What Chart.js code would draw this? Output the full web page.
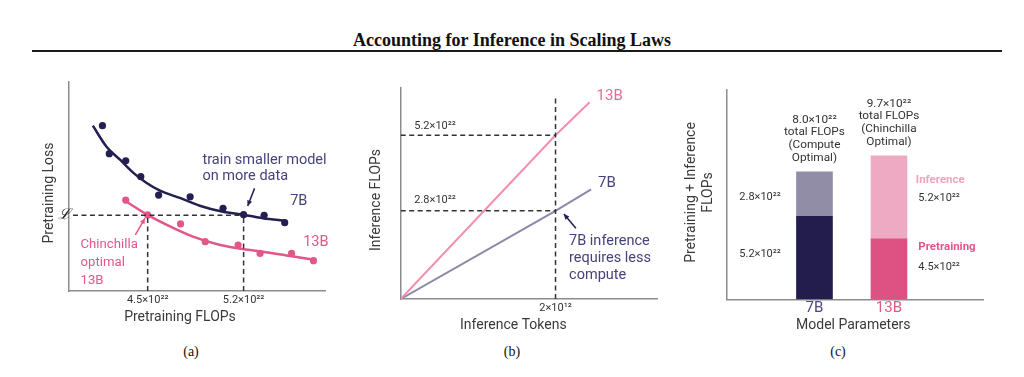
<!DOCTYPE html>
<html>
<head>
<meta charset="utf-8">
<script src="https://cdn.jsdelivr.net/npm/chart.js@4.4.0/dist/chart.umd.min.js"></script>
<style>
  body { margin: 0; background: #fff; width: 1024px; height: 377px; position: relative; overflow: hidden; font-family: "Liberation Serif", serif; }
  #title { position: absolute; left: 0; width: 1024px; top: 30px; text-align: center; font-weight: bold; font-size: 18px; color: #111; }
  #rule { position: absolute; left: 32px; width: 970px; top: 50px; height: 2px; background: #1a1a1a; }
  .panel { position: absolute; top: 70px; height: 265px; }
  .cap { position: absolute; top: 344px; font-size: 14px; color: #111; transform: translateX(-50%); }
</style>
</head>
<body>
<div id="title">Accounting for Inference in Scaling Laws</div>
<div id="rule"></div>
<div class="panel" style="left:20px;width:320px"><canvas id="chart-a" width="320" height="265"></canvas></div>
<div class="panel" style="left:350px;width:320px"><canvas id="chart-b" width="320" height="265"></canvas></div>
<div class="panel" style="left:675px;width:330px"><canvas id="chart-c" width="330" height="265"></canvas></div>
<div class="cap" style="left:191px">(a)</div>
<div class="cap" style="left:512px">(b)</div>
<div class="cap" style="left:838px">(c)</div>
<script>
// (a) pretraining loss vs pretraining FLOPs (x in 1e22 FLOPs, loss in arbitrary units)
var pts7bX = [4.17, 4.22, 4.34, 4.45, 4.58, 4.81, 5.05, 5.20, 5.35, 5.50];
var pts7bY = [7.91, 6.57, 6.23, 5.47, 4.59, 4.51, 3.96, 3.65, 3.62, 3.27];
var fit7bX = [4.10, 4.20, 4.30, 4.40, 4.49, 4.59, 4.74, 4.88, 5.05, 5.20, 5.34, 5.51];
var fit7bY = [7.91, 6.90, 6.27, 5.63, 5.18, 4.80, 4.44, 4.08, 3.79, 3.65, 3.48, 3.36];
var pts13bX = [4.34, 4.50, 4.74, 4.92, 5.16, 5.32, 5.55, 5.71];
var pts13bY = [4.35, 3.64, 3.21, 2.36, 2.20, 1.80, 1.80, 1.45];
var fit13bX = [4.32, 4.50, 4.64, 4.83, 5.03, 5.20, 5.34, 5.54, 5.73];
var fit13bY = [4.38, 3.64, 3.16, 2.60, 2.20, 2.00, 1.88, 1.67, 1.48];
var lossLevel = 3.62;
var flopsTicksA = [4.5, 5.2];
var flopsTickLabelsA = ['4.5×10²²', '5.2×10²²'];

// (b) inference FLOPs (1e22) vs inference tokens (1e12)
var tokens13b = [0, 2, 2.44];
var flops13b = [0, 5.2, 6.25];
var tokens7b = [0, 2, 2.46];
var flops7b = [0, 2.8, 3.48];
var tokenTicksB = [2];
var tokenTickLabelsB = ['2×10¹²'];
var flopLevelsB = [5.2, 2.8];
var flopLevelLabelsB = ['5.2×10²²', '2.8×10²²'];

// (c) pretraining + inference FLOPs per model (bar heights as drawn)
var models = ['7B', '13B'];
var pretrainBar = [5.2, 3.8];
var inferenceBar = [2.8, 5.2];
var pretrainText = ['5.2×10²²', '4.5×10²²'];
var inferenceText = ['2.8×10²²', '5.2×10²²'];
var totalText = ['8.0×10²²', '9.7×10²²'];
var optimalText = [['(Compute', 'Optimal)'], ['(Chinchilla', 'Optimal)']];

var navy = '#231f50';
var navyText = '#46437c';
var pink = '#e2578a';
var axisGrey = '#8c8c8c';
var dark = '#333';
var small = '11px Roboto';
var label = '14px Roboto';

Chart.defaults.font.family = 'Roboto';
Chart.defaults.animation = false;
Chart.defaults.events = [];

function xy(xs, ys) {
    return xs.map(function (x, i) { return { x: x, y: ys[i] }; });
}

function dashed(points, color) {
    return { data: points, showLine: true, borderColor: color || dark, borderWidth: 1.5, borderDash: [5, 3.5], pointRadius: 0 };
}

// text and arrows drawn on top of the plot, placed in data units or relative to the chart area
function notes(items, arrows) {
    return {
        id: 'notes',
        afterDatasetsDraw: function (chart) {
            var ctx = chart.ctx, area = chart.chartArea;
            var sx = chart.scales.x, sy = chart.scales.y;
            function place(at, pos) {
                if (at) return [sx.getPixelForValue(at[0]), sy.getPixelForValue(at[1])];
                return [area.left + pos[0], area.top + pos[1]];
            }
            ctx.save();
            (arrows || []).forEach(function (a) {
                var p0 = place(a.from), p1 = place(a.to);
                var ang = Math.atan2(p1[1] - p0[1], p1[0] - p0[0]);
                ctx.strokeStyle = a.color;
                ctx.fillStyle = a.color;
                ctx.lineWidth = 1.5;
                ctx.beginPath();
                ctx.moveTo(p0[0], p0[1]);
                ctx.lineTo(p1[0], p1[1]);
                ctx.stroke();
                ctx.beginPath();
                ctx.moveTo(p1[0], p1[1]);
                ctx.lineTo(p1[0] - 6 * Math.cos(ang - 0.45), p1[1] - 6 * Math.sin(ang - 0.45));
                ctx.lineTo(p1[0] - 6 * Math.cos(ang + 0.45), p1[1] - 6 * Math.sin(ang + 0.45));
                ctx.closePath();
                ctx.fill();
            });
            items.forEach(function (n) {
                var p = place(n.at, n.pos);
                var lines = [].concat(n.text);
                ctx.save();
                ctx.translate(p[0], p[1] + (n.dy || 0));
                if (n.rot) ctx.rotate(n.rot);
                ctx.font = n.font || label;
                ctx.fillStyle = n.color || dark;
                ctx.textAlign = n.align || 'left';
                ctx.textBaseline = 'middle';
                lines.forEach(function (t, i) { ctx.fillText(t, 0, i * (n.lh || 17)); });
                ctx.restore();
            });
            ctx.restore();
        }
    };
}

function yAxis(min, max, extra) {
    return Object.assign({
        min: min, max: max,
        ticks: { display: false },
        grid: { display: false, drawTicks: false },
        border: { color: axisGrey, width: 1.5 },
        afterFit: function (s) { s.width = 0; }
    }, extra || {});
}

function xAxis(min, max, tickValues, tickLabels, height, opts) {
    return {
        type: 'linear', min: min, max: max, offset: false,
        grid: { display: false, drawTicks: false },
        border: { color: axisGrey, width: 1.5 },
        afterBuildTicks: function (s) { s.ticks = tickValues.map(function (v) { return { value: v }; }); },
        ticks: Object.assign({
            autoSkip: false, maxRotation: 0, padding: 3,
            font: { size: 11 }, color: dark,
            callback: function (v, i) { return tickLabels[i]; }
        }, opts || {}),
        afterFit: function (s) { s.height = height; }
    };
}

// ---- panel (a)
var xMinA = 3.926, xMaxA = 5.794;
new Chart(document.getElementById('chart-a'), {
    type: 'scatter',
    data: {
        datasets: [
            dashed([{ x: 3.955, y: lossLevel }, { x: flopsTicksA[1], y: lossLevel }]),
            dashed([{ x: flopsTicksA[0], y: 0 }, { x: flopsTicksA[0], y: lossLevel }]),
            dashed([{ x: flopsTicksA[1], y: 0 }, { x: flopsTicksA[1], y: lossLevel }]),
            { data: xy(fit7bX, fit7bY), showLine: true, borderColor: navy, borderWidth: 2.5, pointRadius: 0, cubicInterpolationMode: 'monotone' },
            { data: xy(fit13bX, fit13bY), showLine: true, borderColor: pink, borderWidth: 2.5, pointRadius: 0, cubicInterpolationMode: 'monotone' },
            { data: xy(pts7bX, pts7bY), pointRadius: 3.6, pointBackgroundColor: navy, pointBorderWidth: 0 },
            { data: xy(pts13bX, pts13bY), pointRadius: 3.6, pointBackgroundColor: pink, pointBorderWidth: 0 }
        ]
    },
    options: {
        responsive: false,
        layout: { padding: { left: 49, top: 12, right: 15, bottom: 0 } },
        plugins: { legend: { display: false }, tooltip: { enabled: false } },
        scales: {
            x: xAxis(xMinA, xMaxA, flopsTicksA, flopsTickLabelsA, 44),
            y: yAxis(0, 10)
        }
    },
    plugins: [notes([
        { text: 'ℒ', at: [3.89, lossLevel], align: 'center', font: 'italic 15px "DejaVu Serif"', color: '#222' },
        { text: ['train smaller model', 'on more data'], at: [4.90, 6.27], color: navyText, lh: 16.5, font: '14.5px Roboto' },
        { text: '7B', at: [5.54, 4.27], color: navyText, font: '14.5px Roboto' },
        { text: '13B', at: [5.635, 2.31], color: pink, font: '14.5px Roboto' },
        { text: ['Chinchilla', 'optimal', '13B'], at: [4.01, 2.23], color: pink, lh: 18.4, font: '13.2px Roboto' },
        { text: 'Pretraining FLOPs', pos: [111, 235], align: 'center', color: '#3a3a3a' },
        { text: 'Pretraining Loss', pos: [-20, 111], align: 'center', rot: -Math.PI / 2, color: '#3a3a3a' }
    ], [
        { from: [5.28, 4.91], to: [5.23, 4.07], color: navy },
        { from: [4.41, 2.68], to: [4.48, 3.48], color: pink }
    ])]
});

// ---- panel (b)
new Chart(document.getElementById('chart-b'), {
    type: 'scatter',
    data: {
        datasets: [
            dashed([{ x: tokenTicksB[0], y: 0 }, { x: tokenTicksB[0], y: 6.48 }]),
            dashed([{ x: 0, y: flopLevelsB[0] }, { x: tokenTicksB[0], y: flopLevelsB[0] }]),
            dashed([{ x: 0, y: flopLevelsB[1] }, { x: tokenTicksB[0], y: flopLevelsB[1] }]),
            { data: xy(tokens13b, flops13b), showLine: true, borderColor: '#f18fac', borderWidth: 2, pointRadius: 0 },
            { data: xy(tokens7b, flops7b), showLine: true, borderColor: '#8c88a9', borderWidth: 2, pointRadius: 0 }
        ]
    },
    options: {
        responsive: false,
        layout: { padding: { left: 50.7, top: 18, right: 12.3, bottom: 0 } },
        plugins: { legend: { display: false }, tooltip: { enabled: false } },
        scales: {
            x: xAxis(0, 3.32, tokenTicksB, tokenTickLabelsB, 36),
            y: yAxis(0, 6.7)
        }
    },
    plugins: [notes([
        { text: flopLevelLabelsB[0], at: [0.175, 5.49], font: small },
        { text: flopLevelLabelsB[1], at: [0.175, 3.14], font: small },
        { text: '13B', at: [2.53, 6.45], color: '#ea6a96', font: '15px Roboto' },
        { text: '7B', at: [2.55, 3.67], color: navyText, font: '15px Roboto' },
        { text: ['7B inference', 'requires less', 'compute'], at: [2.175, 1.82], color: navyText, lh: 17, font: '14.5px Roboto' },
        { text: 'Inference Tokens', pos: [112.6, 237], align: 'center', color: '#3a3a3a' },
        { text: 'Inference FLOPs', pos: [-24.7, 112], align: 'center', rot: -Math.PI / 2, color: '#3a3a3a' }
    ], [
        { from: [2.263, 2.244], to: [2.108, 2.698], color: navy }
    ])]
});

// ---- panel (c)
var itemsC = [];
models.forEach(function (m, i) {
    var top = pretrainBar[i] + inferenceBar[i];
    [totalText[i], 'total FLOPs', optimalText[i][0], optimalText[i][1]].forEach(function (t, k) {
        itemsC.push({ text: t, at: [i + 1, top], dy: -52 + 12.7 * k, align: 'center', font: '11.8px Roboto' });
    });
});
itemsC.push(
    { text: inferenceText[0], at: [0.27, 6.41], align: 'center', font: small },
    { text: pretrainText[0], at: [0.27, 2.81], align: 'center', font: small },
    { text: 'Inference', at: [2.36, 7.48], color: '#f0a3be', font: 'bold 11.5px Roboto' },
    { text: inferenceText[1], at: [2.394, 6.33], font: small },
    { text: 'Pretraining', at: [2.394, 3.30], color: pink, font: 'bold 11.5px Roboto' },
    { text: pretrainText[1], at: [2.394, 2.04], font: small },
    { text: 'Model Parameters', pos: [126.6, 235.7], align: 'center', color: '#3a3a3a' },
    { text: 'Pretraining + Inference', pos: [-35.7, 103.2], align: 'center', rot: -Math.PI / 2, color: '#3a3a3a' },
    { text: 'FLOPs', pos: [-18.7, 103.2], align: 'center', rot: -Math.PI / 2, color: '#3a3a3a' }
);

var modelColors = ['#4b4880', pink];
new Chart(document.getElementById('chart-c'), {
    type: 'bar',
    data: {
        datasets: [
            { label: 'Pretraining', data: xy([1, 2], pretrainBar), backgroundColor: ['#221d4c', '#de5283'], grouped: false, barThickness: 36 },
            { label: 'Inference', data: xy([1, 2], inferenceBar), backgroundColor: ['#918da7', '#eeaac3'], grouped: false, barThickness: 36 }
        ]
    },
    options: {
        responsive: false,
        layout: { padding: { left: 51.7, top: 19.3, right: 21.7, bottom: 0 } },
        plugins: { legend: { display: false }, tooltip: { enabled: false } },
        scales: {
            x: xAxis(-0.178, 3.266, [1, 2], models, 35.7, {
                padding: 0, font: { size: 15 },
                color: function (c) { return modelColors[c.index]; }
            }),
            y: yAxis(0, 13.17, { stacked: true })
        }
    },
    plugins: [notes(itemsC)]
});
</script>
</body>
</html>
